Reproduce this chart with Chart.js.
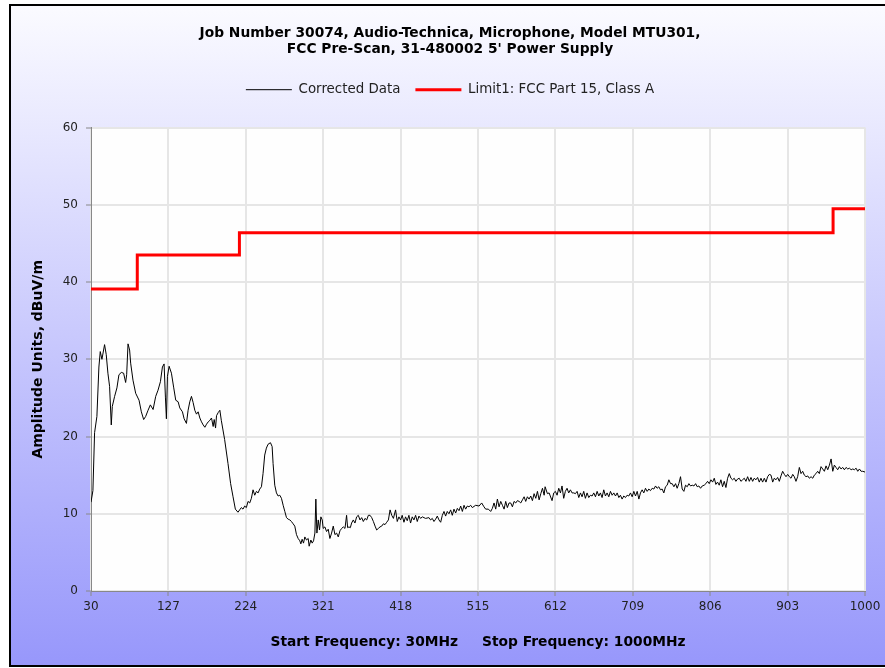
<!DOCTYPE html>
<html>
<head>
<meta charset="utf-8">
<script src="https://cdn.jsdelivr.net/npm/chart.js@4.4.1/dist/chart.umd.min.js"></script>
<style>
  html, body { margin: 0; padding: 0; background: #ffffff; overflow: hidden; }
  #wrap { width: 885px; height: 668px; position: relative; }
</style>
</head>
<body>
<div id="wrap"><canvas id="c"></canvas></div>
<script>
// ---- Data ----
const titleLines = ['Job Number 30074, Audio-Technica, Microphone, Model MTU301,', "FCC Pre-Scan, 31-480002 5' Power Supply"];
const xAxisTitle = 'Start Frequency: 30MHz     Stop Frequency: 1000MHz';
const yAxisTitle = 'Amplitude Units, dBuV/m';
const xTickValues = [30, 127, 224, 321, 418, 515, 612, 709, 806, 903, 1000];

// Corrected Data: frequency (MHz) and amplitude (dBuV/m), in bands
const bandAFreq = [30,32.4,34.5,37.4,39.9,41.6,43.7,47,49.1,51.2,53.3,55.4,56.7,59.6,62.5,65,68,70.9,73.4,74.7,76.4,78.4,79.7,82.6,86,90.2,93.1,96,98.5,101.5,104.4,107.8,111.1,114,117,119.5,121.6,123.3,124.5,125.8,127.9,130.8,133.7,136.2,139.2,141.3,144.6,146.7,149.6,151.7,153.8,155.9,158,160.1,162.2,164.3,166.4,168.5,170.6,172.7,174.8,176.9,179,181,183.1,184.4,186.1,187.3,189.4,191.5];
const bandADb   = [11.5,13,20.5,22.6,29,31,30,31.9,30.6,28.2,26.5,21.5,23.9,25.2,26.3,28,28.3,28.2,27,28,32,31.2,29.5,27.3,25.6,24.7,23.2,22.2,22.6,23.4,24.1,23.5,25.2,26,27.1,29,29.4,25,22.3,27.8,29.1,28.2,26.3,24.7,24.5,23.7,23.2,22.3,21.7,23.4,24.5,25.2,24.4,23.4,22.9,23.2,22.4,21.9,21.5,21.2,21.6,21.9,22.1,22.4,21.3,22.2,21.1,22.7,23.1,23.4];

const bandBFreq = [193.3,197.5,201.7,205,208,210.9,214.2,216.3,218.4,220.5,222.6,224.7,226.8,228.9,231,233.1,235.2,237.3,239.4,241.5,243.6,245.6,247.7,249.8,251.9,254.9,257,258.2,260.3,262.4,264.5,266.6,268.7,270.8,272.9,275,277.1,279.2,281.2,283.3,285.4,287.5,289.6,291.7,293,294.6,296.3,298,300.1,302.2,303.4,305.5,307.2,308.9,310.6,311.8,313.1,314.8,316.4,318.1,319.8,321,323.1,325.2,327.3,329.4,331.5,333.6,335.7,337.8,339.9,342,344.1,346.2,348.3,350.3,351.6,353.3,355,356.6,358.7,360.8,362.9,365,367.1,369.2,371.3,373.4,375.5,377.6,379.7,381.8,383.9,386,388,390.1,392.2,394.3,396.4,398.5,400.6,402.7,404.8,406.9,409];
const bandBDb   = [22.1,19.6,16.5,13.9,12.2,10.6,10.2,10.5,10.8,10.6,11,10.8,11.6,11.4,12,13.1,12.4,12.9,12.7,13.2,13.5,15.2,17.6,18.5,19,19.2,18.7,16.5,13.7,12.7,12.3,12.4,12,11.1,10.3,9.5,9.3,9.2,9,8.7,8.4,7.3,6.8,6.5,6.1,6.7,6.2,7,6.6,6.8,5.8,6.6,6.2,6.5,7.5,11.9,7.5,9.2,7.9,9.6,9.2,8.1,8.3,7.7,8,6.8,7.5,8.4,7.3,7.5,7,7.8,8.1,8.3,8.1,9.8,8.2,8.3,8.2,8.8,9.2,8.8,9.6,9.8,9.2,9.5,9,9.4,9.2,9.8,9.8,9.5,9,8.4,7.9,8.1,8.3,8.4,8.7,8.6,8.9,9.2,10.5,9.8,9.4];

const bandCFreq = [411.7,413.8,415.9,418,420,422.2,424.2,426.3,428.4,430.5,432.6,434.7,436.8,438.9,441,443.1,445.2,449.3,453.5,455.6,457.7,459.8,461.9,464,466.1,468.2,470.3,472.4,474.4,476.5,478.6,480.7,482.8,484.9,487,489.1,491.2,493.3,495.4,497.5,499.5,501.6,503.7,505.8,507.9,512.1,516.3,519.6,522.5,524.6,528,530.9,533,535.1,537.2,539.3,541.4,543.5,545.6,547.7,549.7,551.8,553.9,556,558.1,560.2,562.3,564.4,566.5,568.6,570.7,572.8,574.8,576.9,579,581.1,583.2,585.3,587.4,589.5,591.6,593.7,595.8,597.9,599.1,602,604.1];
const bandCDb   = [10.5,9,9.6,9.2,9.8,8.9,9.6,9.1,9.8,8.8,9.6,9.2,9.8,9,9.7,9.4,9.6,9.4,9.5,9.2,9.4,9,9.3,9.7,9.2,8.9,9.8,10.3,9.7,10.3,10,10.5,9.8,10.6,10.1,10.7,10.4,11,10.3,11.1,10.6,11,10.9,11.1,10.8,11.1,11,11.4,10.9,10.6,10.6,10.3,10.7,11.4,10.6,11.9,10.9,11.6,11.1,10.6,11.6,10.8,11.4,11.4,10.9,11.6,11.4,11.7,11.6,11.4,11.8,12.2,11.6,12.2,11.9,12.3,11.7,12.6,12,12.9,11.8,12.6,13.3,12.4,13.5,12.6,12.7];

const bandDFreq = [607.8,609.9,612,614.1,616.2,618.3,620.3,622.4,624.5,626.6,628.7,630.8,632.9,635,637.1,639.2,641.3,643.4,645.4,647.5,649.6,651.7,653.8,655.9,658,660.1,662.2,664.3,666.4,668.4,670.5,672.6,674.7,676.8,678.9,681,683.1,685.2,687.3,689.4,691.5,693.5,695.6,697.7,699.8,701.9,704,706.1,708.2,710.3,712.4,714.5,716.6,718.6,720.7,722.8,724.9,727,729.1,731.2,733.3,735.4,737.5,739.5,741.6,743.7,745.8,747.9,750,752.1,754.2,756.3,758.4,760.5,762.6,764.6,766.7,768.8,770.9,773,775.1,777.2,779.3,781.4,783.5,785.6,787.7,789.7,791.8,793.9,796];
const bandDDb   = [11.7,12.7,12.9,12.4,13.3,12.7,13.6,12,12.9,13.3,12.7,13.1,12.7,12.7,12.6,12.9,12.1,12.7,12.2,12.9,12,12.7,12.1,12.4,12.3,12.7,12.2,12.9,12.3,12.7,12.1,13.1,12.3,12.7,12.2,12.9,12.4,12.7,12.3,12.7,12.1,12.4,11.9,12.3,12.1,12.4,12.3,12.7,12.2,12.9,12.3,12.9,11.9,12.7,13.1,12.7,13.3,12.9,13.2,13,13.3,13.2,13.6,13.3,13.5,13.1,13.2,12.7,13.5,13.7,14.4,13.9,13.9,13.5,13.9,13.3,13.9,14.8,13.2,12.9,13.7,13.5,13.9,13.6,13.7,13.6,13.9,13.5,13.6,13.3,13.6];

const bandEFreq = [798.5,800.6,802.7,804.8,806.9,809,811.1,813.1,815.2,817.3,819.4,821.5,823.6,825.7,827.8,829.9,832,834.1,836.1,838.2,840.3,842.4,844.5,846.6,848.7,850.8,852.9,855,857.1,859.2,861.2,863.3,865.4,867.5,869.6,871.7,873.8,875.9,878,880.1,882.2,884.3,886.3,888.4,890.5,892.6,894.7,896.8,898.9,901,903.1,905.2,907.3,909.4,911.4,913.5,915.6,917.7,919.8,921.9,924,926.1,928.2,930.3,932.4,934.5,936.5,938.6,940.7,942.8,944.9,947,949.1,951.2,953.3,955.4,957.5,959.6,961.6,963.7,965.8,967.9,970,972.1,974.2,976.3,978.4,980.5,982.6,984.7,986.7,988.8,990.9,993,995.1,997.2,1000];
const bandEDb   = [13.7,13.9,14.2,13.9,14.4,14.1,14.6,13.8,14.1,13.7,14.4,13.5,14.2,13.4,14.6,15.2,14.6,14.4,14.6,14.2,14.5,14.6,14.2,14.4,14.6,14.2,14.8,14.2,14.7,14.2,14.6,14.4,14.7,14.1,14.6,14.1,14.6,14.1,14.8,15.1,15,14.1,14.6,14.4,14.7,14.2,14.9,15.5,15.1,14.8,15.1,14.8,14.6,15.1,14.8,14.2,14.8,16,15.2,15.5,15,14.8,14.9,14.6,14.8,14.6,15,15.2,15.5,15.2,16.1,15.8,15.5,16.2,15.7,16.3,17.1,15.5,16.3,16,15.7,16.1,15.8,16,15.7,16,15.8,15.9,15.7,15.8,15.7,15.9,15.5,15.8,15.5,15.5,15.4];

// Limit1: FCC Part 15, Class A (step limit)
const limitFreq = [30, 88, 216, 960, 1000];
const limitDb   = [39.1, 43.5, 46.4, 49.5, 49.5];

// ---- Build datasets ----
const bands = [[bandAFreq, bandADb], [bandBFreq, bandBDb], [bandCFreq, bandCDb], [bandDFreq, bandDDb], [bandEFreq, bandEDb]];
const correctedPoints = [];
bands.forEach(([f, v], bi) => {
  if (f.length !== v.length) console.error('band length mismatch', bi, f.length, v.length);
  f.forEach((fx, i) => correctedPoints.push({ x: fx, y: v[i] }));
});
const limitPoints = limitFreq.map((f, i) => ({ x: f, y: limitDb[i] }));

Chart.defaults.font.family = '"DejaVu Sans", sans-serif';
Chart.defaults.font.size = 12;
Chart.defaults.color = '#222';

const frame = {
  id: 'frame',
  beforeDraw(chart) {
    const { ctx, width, height, chartArea } = chart;
    ctx.save();
    ctx.fillStyle = '#ffffff';
    ctx.fillRect(0, 0, width, height);
    const g = ctx.createLinearGradient(0, 5, 0, 666);
    g.addColorStop(0, '#fbfbff');
    g.addColorStop(1, '#9797fb');
    ctx.fillStyle = g;
    ctx.fillRect(10, 5, width - 10, 661);
    ctx.strokeStyle = '#000000';
    ctx.lineWidth = 2;
    ctx.beginPath();
    ctx.moveTo(width, 5); ctx.lineTo(10, 5); ctx.lineTo(10, 666); ctx.lineTo(width, 666);
    ctx.stroke();
    ctx.fillStyle = '#fefefe';
    ctx.fillRect(chartArea.left, chartArea.top, chartArea.right - chartArea.left, chartArea.bottom - chartArea.top);
    ctx.restore();
  }
};

new Chart(document.getElementById('c'), {
  type: 'line',
  data: {
    datasets: [
      { label: 'Corrected Data', data: correctedPoints, borderColor: '#000000', backgroundColor: '#000000', borderWidth: 1, pointRadius: 0, tension: 0, fill: false },
      { label: 'Limit1: FCC Part 15, Class A', data: limitPoints, stepped: true, borderColor: '#ff0000', backgroundColor: '#ff0000', borderWidth: 3, pointRadius: 0, fill: false }
    ]
  },
  options: {
    responsive: true,
    maintainAspectRatio: false,
    animation: false,
    events: [],
    layout: { padding: { left: 25, right: 10, top: 5, bottom: 2 } },
    plugins: {
      title: {
        display: true, text: titleLines, color: '#000',
        font: { size: 13.8, weight: 'bold', lineHeight: 16 / 13.8 },
        padding: { top: 20, bottom: 11 }
      },
      subtitle: {
        display: true, text: '', weight: 500,
        font: { size: 1, lineHeight: 1 },
        padding: { top: 20.2, bottom: 0 }
      },
      legend: {
        display: true,
        labels: {
          usePointStyle: true, pointStyle: 'line', pointStyleWidth: 46,
          padding: 15, color: '#222', font: { size: 13.4 }
        }
      },
      tooltip: { enabled: false }
    },
    scales: {
      x: {
        type: 'linear', min: 30, max: 1000,
        afterBuildTicks(scale) { scale.ticks = xTickValues.map(v => ({ value: v })); },
        afterFit(scale) { scale.height = 75; },
        grid: { color: '#e6e6e6', lineWidth: 2, tickColor: '#888', tickLength: 5, tickWidth: 1 },
        border: { color: '#888', width: 1 },
        ticks: { padding: 4, color: '#222', font: { size: 12 }, maxRotation: 0, autoSkip: false, callback: v => String(v) },
        title: { display: true, text: xAxisTitle, color: '#000', font: { size: 13.8, weight: 'bold' }, padding: { top: 4, bottom: 15 } }
      },
      y: {
        type: 'linear', min: 0, max: 60,
        afterFit(scale) { scale.width = 66; },
        grid: { color: '#e6e6e6', lineWidth: 2, tickColor: '#888', tickLength: 5, tickWidth: 1 },
        border: { color: '#888', width: 1 },
        ticks: { stepSize: 10, padding: 8, color: '#222', font: { size: 12 }, callback: v => String(v) },
        title: { display: true, text: yAxisTitle, color: '#000', font: { size: 14, weight: 'bold' }, padding: { top: 4.6, bottom: 0 } }
      },
      yRight: {
        type: 'linear', position: 'right', display: true,
        afterFit(scale) { scale.width = 10; },
        grid: { display: false, drawTicks: false },
        border: { display: false },
        ticks: { display: false }
      }
    }
  },
  plugins: [frame]
});
</script>
</body>
</html>
